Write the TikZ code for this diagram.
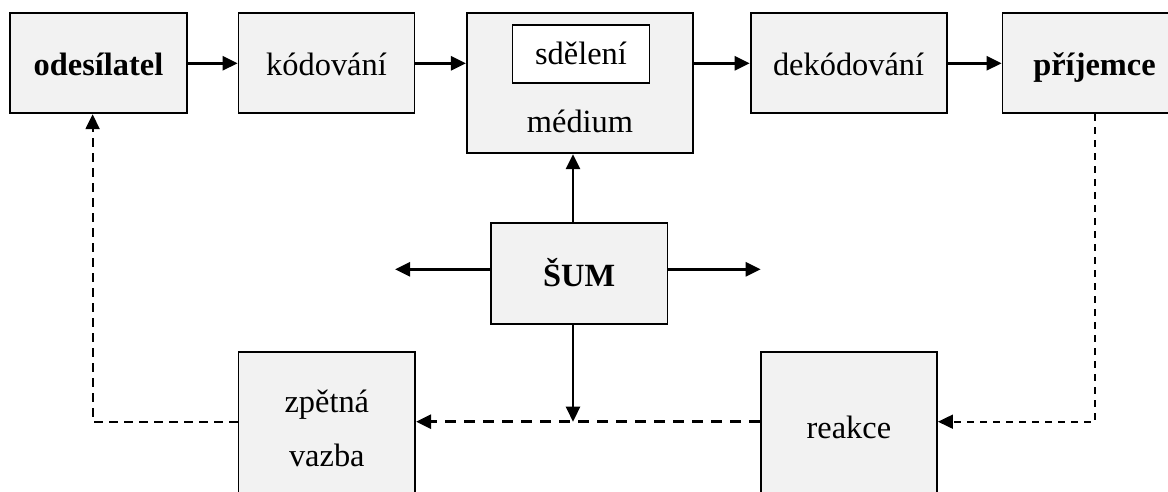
\documentclass[tikz,border=0pt]{standalone}
\usepackage{fontspec}
\setmainfont{Liberation Serif}
\usetikzlibrary{arrows.meta}
\definecolor{boxfill}{HTML}{F2F2F2}
\tikzset{
  box/.style={draw=black, line width=1.8pt, fill=boxfill, inner sep=0pt,
    font=\fontsize{32.4}{38}\selectfont, text height=24.4pt, text depth=0pt},
  innerbox/.style={box, fill=white, text height=21.6pt},
  txt/.style={anchor=base, inner sep=0pt, font=\fontsize{32.4}{38}\selectfont},
  tip/.style={-{Triangle[length=15pt,width=14pt]}},
  flow/.style={tip, line width=2.6pt},
  fbthin/.style={tip, line width=1.8pt, dash pattern=on 7pt off 6pt},
  fbthick/.style={tip, line width=2.8pt, dash pattern=on 11pt off 8pt},
  fbmid/.style={tip, line width=2.2pt, dash pattern=on 9pt off 6pt},
}
\begin{document}
\begin{tikzpicture}[x=1pt, y=-1pt]
\useasboundingbox (0,0) rectangle (1168,492);
\clip (0,0) rectangle (1168,492);

% top row
\node[box, minimum width=176.5pt, minimum height=100pt] (odes) at (98.5,63.3) {\bfseries odesílatel};
\node[box, minimum width=176pt, minimum height=100pt] (kod) at (326.5,63.3) {kódování};
\node[box, minimum width=226pt, minimum height=140pt] (med) at (579.8,83.3) {};
\node[innerbox, minimum width=137pt, minimum height=58.3pt] (sdel) at (581,54.2) {sdělení};
\node[txt] (medtxt) at (580,133) {médium};
\node[box, minimum width=196pt, minimum height=100pt] (dek) at (848.6,63.3) {dekódování};
\node[box, minimum width=184pt, minimum height=100pt] (prij) at (1094.5,63.3) {\bfseries příjemce};

% noise
\node[box, minimum width=176.4pt, minimum height=100.7pt, text height=26pt] (sum) at (579.2,273.7) {\bfseries ŠUM};

% bottom row
\node[box, minimum width=176.8pt, minimum height=160pt] (zpet) at (326.8,431.7) {};
\node[txt] (zpet1) at (326.8,412.5) {zpětná};
\node[txt] (zpet2) at (326.8,466.5) {vazba};
\node[box, minimum width=176.3pt, minimum height=160pt] (reak) at (848.9,431.7) {};
\node[txt] (reaktxt) at (848.9,438.5) {reakce};

% helper points
\coordinate (vx) at (573,0);
\coordinate (noiseL) at (395,269.3);
\coordinate (noiseR) at (760.7,269.3);
\coordinate (fbR) at (1095,421.7);
\coordinate (fbL) at (92.6,421.7);

% main flow
\draw[flow] (odes.east) -- (kod.west);
\draw[flow] (kod.east) -- (med.west |- kod.east);
\draw[flow] (med.east |- dek.west) -- (dek.west);
\draw[flow] (dek.east) -- (prij.west);

% noise arrows
\draw[flow] (vx |- sum.north) -- (vx |- med.south);
\draw[flow] (sum.west |- noiseL) -- (noiseL);
\draw[flow] (sum.east |- noiseR) -- (noiseR);
\draw[flow] (vx |- sum.south) -- (vx |- fbR);

% feedback loop
\draw[fbthin] (fbR |- prij.south) -- (fbR) -- (reak.east |- fbR);
\draw[fbthick] (reak.west |- fbR) -- (zpet.east |- fbR);
\draw[fbmid] (zpet.west |- fbL) -- (fbL) -- (fbL |- odes.south);
\end{tikzpicture}
\end{document}
